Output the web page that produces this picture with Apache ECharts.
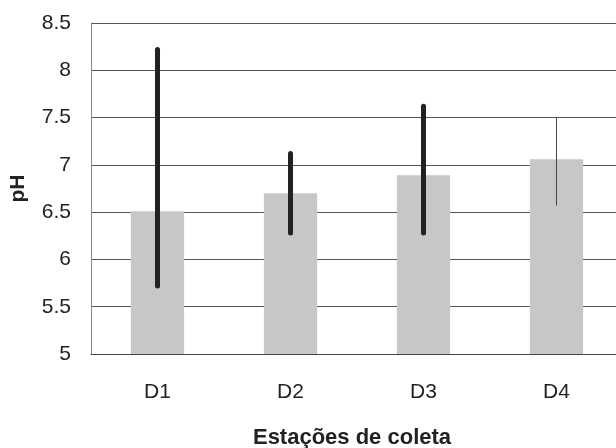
<!DOCTYPE html>
<html>
<head>
<meta charset="utf-8">
<script src="https://cdn.jsdelivr.net/npm/echarts@6/dist/echarts.min.js"></script>
<style>
html,body{margin:0;padding:0;background:#fff;}
#chart{width:616px;height:448px;}
</style>
</head>
<body>
<div id="chart"></div>
<script>
const categories = ['D1', 'D2', 'D3', 'D4'];
const phMean = [6.51, 6.70, 6.89, 7.06];
const phLow = [5.72, 6.28, 6.28, 6.57];
const phHigh = [8.22, 7.12, 7.62, 7.50];
const yTicks = [5, 5.5, 6, 6.5, 7, 7.5, 8, 8.5];

const errData = categories.map((c, i) => [i, phLow[i], phHigh[i]]);

const chart = echarts.init(document.getElementById('chart'), null, {renderer: 'canvas'});
const font = '"Liberation Sans", Arial, sans-serif';
chart.setOption({
  animation: false,
  backgroundColor: '#fff',
  grid: {left: 91, top: 23, width: 532, height: 331, containLabel: false, outerBoundsMode: 'none'},
  xAxis: {
    type: 'category',
    data: categories,
    axisTick: {show: false},
    axisLine: {show: true, lineStyle: {color: '#444', width: 1}},
    axisLabel: {color: '#222', fontSize: 21, fontFamily: font, margin: 28},
    name: 'Estações de coleta',
    nameLocation: 'middle',
    nameGap: 73,
    nameTextStyle: {color: '#222', fontSize: 22, fontWeight: 'bold', fontFamily: font, padding: [0, 0, 0, -10]}
  },
  yAxis: {
    type: 'value',
    min: yTicks[0],
    max: yTicks[yTicks.length - 1],
    interval: 0.5,
    axisTick: {show: false},
    axisLine: {show: true, lineStyle: {color: '#888', width: 1}},
    axisLabel: {color: '#222', fontSize: 21, fontFamily: font, margin: 20},
    splitLine: {show: true, lineStyle: {color: '#555', width: 1}},
    name: 'pH',
    nameLocation: 'middle',
    nameRotate: 90,
    nameGap: 62,
    nameTextStyle: {color: '#222', fontSize: 21, fontWeight: 'bold', fontFamily: font}
  },
  series: [
    {
      type: 'bar',
      data: phMean,
      barWidth: '40%',
      itemStyle: {color: '#c6c7c9'},
      z: 2
    },
    {
      type: 'custom',
      data: errData,
      z: 5,
      renderItem: function (params, api) {
        const i = api.value(0);
        const lo = api.coord([i, api.value(1)]);
        const hi = api.coord([i, api.value(2)]);
        const thin = i === 3;
        return {
          type: 'line',
          shape: {x1: lo[0], y1: lo[1], x2: hi[0], y2: hi[1]},
          style: {
            stroke: thin ? '#444' : '#222',
            lineWidth: thin ? 1 : 5,
            lineCap: thin ? 'butt' : 'round'
          }
        };
      }
    }
  ]
});
</script>
</body>
</html>
